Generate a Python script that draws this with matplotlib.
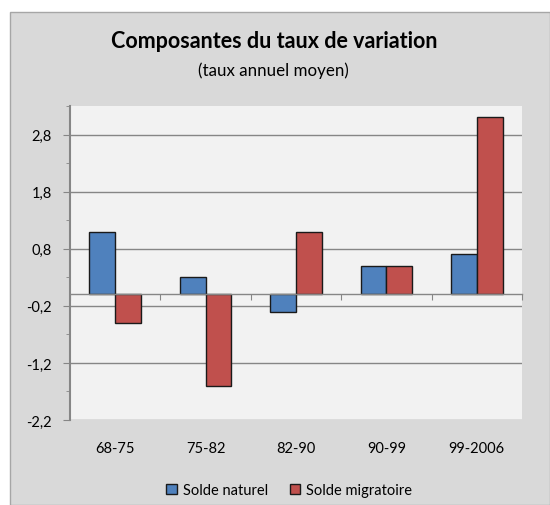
import numpy as np
import matplotlib
matplotlib.use('Agg')
from matplotlib import pyplot as plt
from matplotlib.patches import Rectangle
from matplotlib import transforms

# data
periodes = ['68-75', '75-82', '82-90', '90-99', '99-2006']
solde_naturel = [1.1, 0.3, -0.3, 0.5, 0.7]
solde_migratoire = [-0.5, -1.6, 1.1, 0.5, 3.1]
yticks = [-2.2, -1.2, -0.2, 0.8, 1.8, 2.8]
ytick_labels = ['-2,2', '-1,2', '-0,2', '0,8', '1,8', '2,8']

plt.rcParams['font.family'] = ['Lato', 'DejaVu Sans']

W, H = 550, 506
fig = plt.figure(figsize=(W / 100., H / 100.), dpi=100)
fig.patch.set_facecolor('white')

# grey chart area
fig.patches.append(Rectangle((10. / W, 0), (W - 10.) / W, (H - 13.) / H,
                             transform=fig.transFigure, facecolor='#d9d9d9',
                             edgecolor='#a6a6a6', linewidth=1, zorder=-10))

ax = fig.add_axes([70. / W, (H - 421.) / H, 452. / W, (421. - 107.) / H])
ax.set_facecolor('#f2f2f2')

x = np.arange(len(periodes))
w = 0.285
ax.bar(x - w / 2, solde_naturel, w, color='#4f81bd', edgecolor='#1a1a1a',
       linewidth=1, label='Solde naturel', zorder=3)
ax.bar(x + w / 2, solde_migratoire, w, color='#c0504d', edgecolor='#1a1a1a',
       linewidth=1, label='Solde migratoire', zorder=3)

ax.set_xlim(-0.5, len(periodes) - 0.5)
ax.set_ylim(-2.2, 3.21)
ax.set_yticks(yticks)
ax.set_yticklabels(ytick_labels, fontsize=10.5)
ax.set_yticks([v + 0.5 for v in yticks], minor=True)
ax.tick_params(axis='y', which='major', direction='out', length=5,
               color='#868686', pad=8)
ax.tick_params(axis='y', which='minor', direction='out', length=3,
               color='#868686')
ax.yaxis.grid(True, color='#868686', linewidth=1, zorder=1)

# category axis crossing at zero
for s in ['top', 'right']:
    ax.spines[s].set_visible(False)
ax.spines['left'].set_color('#868686')
ax.spines['left'].set_linewidth(1.5)
ax.spines['bottom'].set_position(('data', 0))
ax.spines['bottom'].set_color('#868686')
ax.spines['bottom'].set_linewidth(1)
ax.spines['bottom'].set_zorder(4)
ax.set_xticks(np.arange(len(periodes) + 1) - 0.5)
ax.set_xticklabels([])
ax.tick_params(axis='x', direction='out', length=4, color='#868686')

trans = transforms.blended_transform_factory(ax.transData, fig.transFigure)
for xi, lab in zip(x, periodes):
    ax.text(xi, 1 - 449. / H, lab, transform=trans, ha='center', va='center',
            fontsize=10.5)

fig.text(274. / W, 1 - 41. / H, 'Composantes du taux de variation',
         ha='center', va='center', fontsize=15.5, fontweight='bold')
fig.text(273. / W, 1 - 71. / H, '(taux annuel moyen)',
         ha='center', va='center', fontsize=12.2)

fig.legend(loc='center', bbox_to_anchor=(289. / W, 1 - 491. / H), ncol=2,
           frameon=False, fontsize=10.5, handlelength=0.75, handleheight=0.75,
           handletextpad=0.4, columnspacing=1.5)

fig.savefig('out.png', dpi=100)
